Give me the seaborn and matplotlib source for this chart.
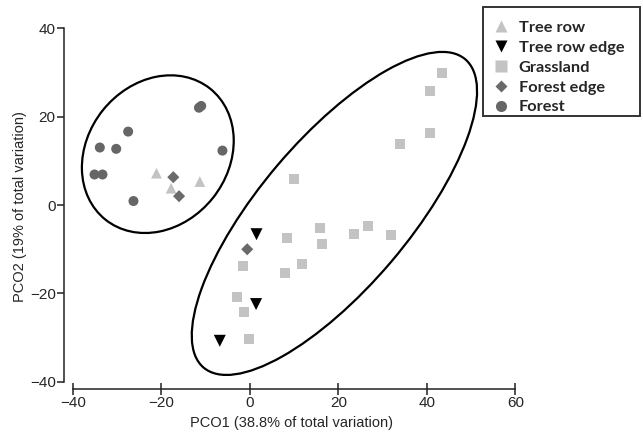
import matplotlib
matplotlib.use("Agg")
import matplotlib.pyplot as plt
from matplotlib.patches import Ellipse, Rectangle
from matplotlib.lines import Line2D
import pandas as pd
import seaborn as sns

# values
tree_row_x = [-21.1, -17.8, -11.3]
tree_row_y = [7.2, 3.8, 5.3]

tree_row_edge_x = [1.5, 1.4, -6.8]
tree_row_edge_y = [-6.6, -22.4, -30.7]

grassland_x = [43.4, 40.8, 40.6, 33.9, 10.0, 8.3, 15.8, 16.3, 23.5,
               26.6, 31.8, 11.7, 7.9, -1.6, -2.8, -1.3, -0.2]
grassland_y = [29.8, 25.8, 16.2, 13.9, 5.9, -7.4, -5.1, -8.9, -6.6,
               -4.7, -6.8, -13.4, -15.4, -13.8, -20.9, -24.2, -30.3]

forest_edge_x = [-17.3, -16.0, -0.6]
forest_edge_y = [6.3, 2.0, -10.0]

forest_x = [-11.5, -11.0, -27.5, -33.9, -30.2, -6.2, -35.1, -33.3, -26.3]
forest_y = [22.0, 22.4, 16.6, 13.0, 12.7, 12.3, 6.9, 6.9, 0.9]

groups = ["Tree row", "Tree row edge", "Grassland", "Forest edge", "Forest"]
xs = [tree_row_x, tree_row_edge_x, grassland_x, forest_edge_x, forest_x]
ys = [tree_row_y, tree_row_edge_y, grassland_y, forest_edge_y, forest_y]

markers = {"Tree row": "^", "Tree row edge": "v", "Grassland": "s",
           "Forest edge": "D", "Forest": "o"}
colors = {"Tree row": "#c3c3c3", "Tree row edge": "#000000",
          "Grassland": "#c3c3c3", "Forest edge": "#6a6a6a", "Forest": "#666666"}
sizes = {"Tree row": 60, "Tree row edge": 75, "Grassland": 52,
         "Forest edge": 38, "Forest": 52}

# group outlines: centre, width, height, angle (data units)
ellipses = [((-20.8, 11.5), 37.9, 31.8, 51.4),
            ((19.1, -1.9), 91.4, 33.7, 49.7)]

rows = []
for g, gx, gy in zip(groups, xs, ys):
    for a, b in zip(gx, gy):
        rows.append({"group": g, "pco1": a, "pco2": b})
df = pd.DataFrame(rows)

sns.set_style("white")
plt.rcParams["font.family"] = ["Liberation Sans", "DejaVu Sans"]

W, H = 643, 437
fig = plt.figure(figsize=(W / 100, H / 100), dpi=100)
ax = fig.add_axes([0.0995, 0.1098, 0.709, 0.836])

for g in groups:
    sub = df[df["group"] == g]
    sns.scatterplot(data=sub, x="pco1", y="pco2", marker=markers[g],
                    s=sizes[g], color=colors[g], edgecolor="none",
                    linewidth=0, ax=ax, legend=False, zorder=3)

for (cx, cy), w, h, ang in ellipses:
    ax.add_patch(Ellipse((cx, cy), w, h, angle=ang, fill=False,
                         edgecolor="black", linewidth=1.6, zorder=2))

ax.set_xlim(-42, 61)
ax.set_ylim(-41.6, 41)
ax.set_xticks([-40, -20, 0, 20, 40, 60])
ax.set_yticks([-40, -20, 0, 20, 40])

for side in ["top", "right"]:
    ax.spines[side].set_visible(False)
ax.spines["left"].set_bounds(-40, 40)
ax.spines["bottom"].set_bounds(-40, 60)
for side in ["left", "bottom"]:
    ax.spines[side].set_color("#222222")
    ax.spines[side].set_linewidth(1.1)

ax.tick_params(axis="y", left=True, direction="out", length=5, width=1.1,
               color="#222222", labelsize=11, pad=1)
ax.tick_params(axis="x", bottom=True, direction="inout", length=8, width=1.1,
               color="#222222", labelsize=11, pad=1)

ax.set_xlabel("PCO1 (38.8% of total variation)", fontsize=10.5, labelpad=4)
ax.set_ylabel("PCO2 (19% of total variation)", fontsize=10.5, labelpad=2)

handles = [Line2D([], [], linestyle="none", marker=markers[g],
                  markersize=8 if g != "Forest edge" else 6.5,
                  markerfacecolor=colors[g], markeredgecolor="none")
           for g in groups]
leg = fig.legend(handles, groups, loc="upper left",
                 bbox_to_anchor=(490 / W, 1 - 20.5 / H), borderaxespad=0,
                 frameon=False, borderpad=0,
                 labelspacing=0.33, handletextpad=0.45, handlelength=1.3,
                 prop={"family": ["Lato", "DejaVu Sans"], "weight": "bold",
                       "size": 11.8})

# legend box drawn separately: the original has more room above than below
fig.add_artist(Rectangle((483 / W, 1 - 116 / H), 157 / W, 109 / H,
                         transform=fig.transFigure, fill=False,
                         edgecolor="#333333", linewidth=1.4))

fig.savefig("out.png", dpi=100)
